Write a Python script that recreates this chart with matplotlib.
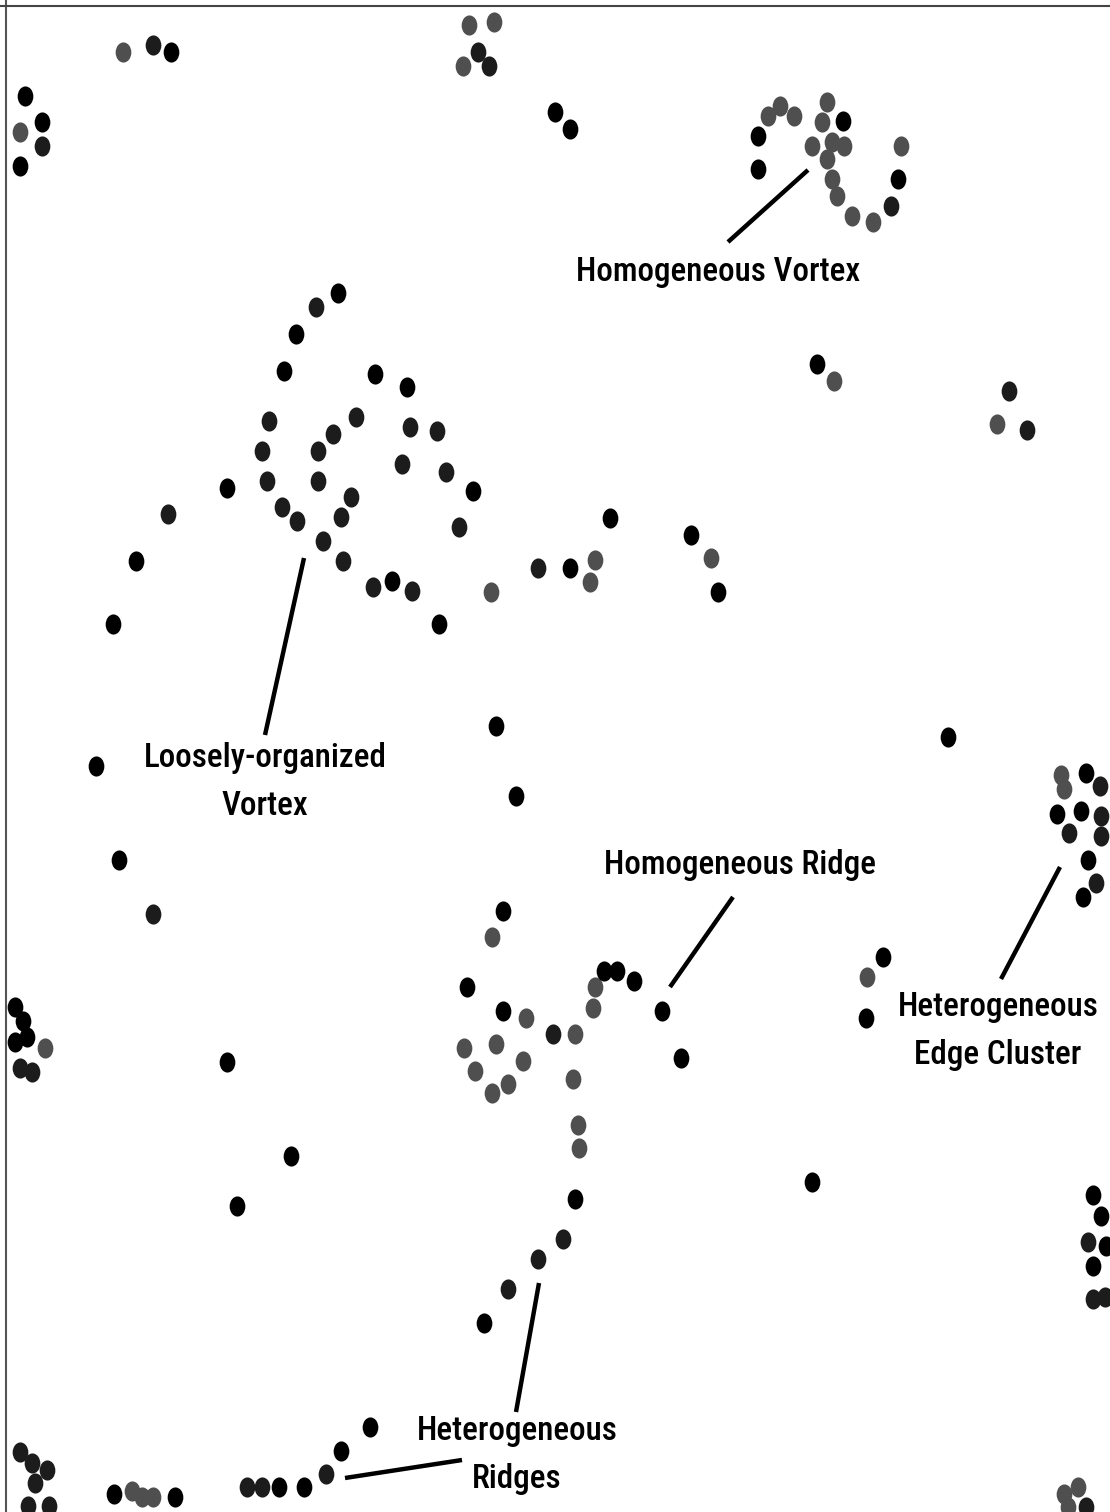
import matplotlib.pyplot as plt
from matplotlib.path import Path
from matplotlib import font_manager as fm

# dot positions (image pixel coordinates, y downward)
black_x = [171, 25, 42, 20, 555, 570, 843, 758, 758, 898, 817, 338, 296, 284, 375, 407,
           473, 227, 136, 113, 392, 439, 570, 610, 691, 718, 496, 516, 96, 119, 948, 227,
           291, 237, 812, 1086, 1057, 1081, 1088, 1083, 883, 866, 15, 23, 27, 15, 503,
           467, 503, 604, 617, 634, 662, 681, 575, 484, 114, 175, 279, 304, 341, 370,
           1093, 1101, 1106, 1093]
black_y = [52, 96, 122, 166, 112, 129, 121, 136, 169, 179, 364, 293, 334, 371, 374, 387,
           491, 488, 561, 624, 581, 624, 568, 518, 535, 592, 726, 796, 766, 860, 737, 1062,
           1156, 1206, 1182, 773, 814, 811, 860, 897, 957, 1018, 1007, 1021, 1037, 1042, 911,
           987, 1011, 971, 971, 981, 1011, 1058, 1199, 1323, 1494, 1497, 1487, 1487, 1451, 1427,
           1195, 1216, 1246, 1266]

dark_x = [153, 42, 478, 489, 891, 1009, 1027, 316, 269, 356, 333, 318, 262, 410, 437, 402,
          446, 267, 318, 282, 297, 351, 341, 323, 343, 459, 168, 373, 412, 538, 153, 1100,
          1101, 1069, 1101, 1096, 20, 32, 553, 563, 538, 508, 20, 32, 47, 35, 28, 49, 247,
          262, 326, 1088, 1093, 1105, 1086]
dark_y = [45, 146, 52, 66, 206, 391, 430, 307, 421, 417, 434, 451, 451, 427, 431, 464,
          472, 481, 481, 507, 521, 497, 517, 541, 561, 527, 514, 587, 591, 568, 914, 786,
          816, 833, 836, 883, 1068, 1072, 1034, 1239, 1259, 1289, 1452, 1463, 1470, 1483, 1506,
          1506, 1487, 1487, 1474, 1242, 1299, 1297, 1507]

gray_x = [123, 20, 469, 494, 463, 768, 780, 794, 827, 822, 812, 832, 844, 827, 832, 837,
          852, 873, 901, 834, 997, 491, 595, 590, 711, 1061, 1064, 867, 45, 492, 526, 575,
          464, 496, 523, 475, 508, 492, 573, 578, 579, 595, 593, 132, 142, 153, 1078, 1064,
          1068]
gray_y = [52, 132, 25, 22, 66, 116, 106, 116, 102, 122, 146, 142, 146, 159, 179, 196,
          216, 222, 146, 381, 424, 592, 560, 582, 558, 775, 789, 977, 1048, 937, 1018, 1034,
          1048, 1044, 1061, 1071, 1084, 1093, 1079, 1125, 1148, 987, 1008, 1491, 1497, 1497,
          1487, 1494, 1507]

# annotation texts: (label, text x, text y)
labels = ["Homogeneous Vortex", "Loosely-organized\nVortex", "Homogeneous Ridge",
          "Heterogeneous\nEdge Cluster", "Heterogeneous\nRidges"]
label_x = [718, 265, 740, 998, 517]
label_y = [272, 782, 865, 1031, 1455]

# leader lines: start / end
line_x0 = [808, 304, 733, 1060, 539, 345]
line_y0 = [170, 558, 897, 867, 1283, 1478]
line_x1 = [728, 265, 670, 1001, 516, 462]
line_y1 = [242, 735, 987, 979, 1412, 1460]

fonts = {f.name for f in fm.fontManager.ttflist}
family = 'Liberation Sans'
for cand in ['Liberation Sans Narrow', 'Roboto Condensed', 'Open Sans Condensed']:
    if cand in fonts:
        family = cand
        break

# slightly tall elliptical dot
circ = Path.unit_circle()
dot = Path(circ.vertices * [0.78, 1.0], circ.codes)

fig = plt.figure(figsize=(11.1, 15.12), dpi=100)
ax = fig.add_axes([0, 0, 1, 1])
ax.set_xlim(0, 1110)
ax.set_ylim(1512, 0)
ax.axis('off')

ax.axvline(6, color='#555555', lw=1.5)
ax.axhline(6, color='#444444', lw=1.5)

for x0, y0, x1, y1 in zip(line_x0, line_y0, line_x1, line_y1):
    ax.plot([x0, x1], [y0, y1], color='black', lw=3.2, solid_capstyle='butt')

ax.scatter(gray_x, gray_y, s=210, marker=dot, color='#4f4f4f', lw=0, zorder=3)
ax.scatter(dark_x, dark_y, s=210, marker=dot, color='#1c1c1c', lw=0, zorder=3)
ax.scatter(black_x, black_y, s=210, marker=dot, color='black', lw=0, zorder=3)

# size the font so "Homogeneous Vortex" is about as wide as in the reference (~285 px)
renderer = fig.canvas.get_renderer()
probe = ax.text(0, 0, labels[0], fontsize=20, family=family, weight='medium')
w = probe.get_window_extent(renderer).width
probe.remove()
fs = 20 * 285 / w

for t, x, y in zip(labels, label_x, label_y):
    ax.text(x, y, t, ha='center', va='center', fontsize=fs, family=family,
            weight='medium', linespacing=1.85 * 21 / fs, color='black')

fig.savefig('out.png', dpi=100, facecolor='white')
